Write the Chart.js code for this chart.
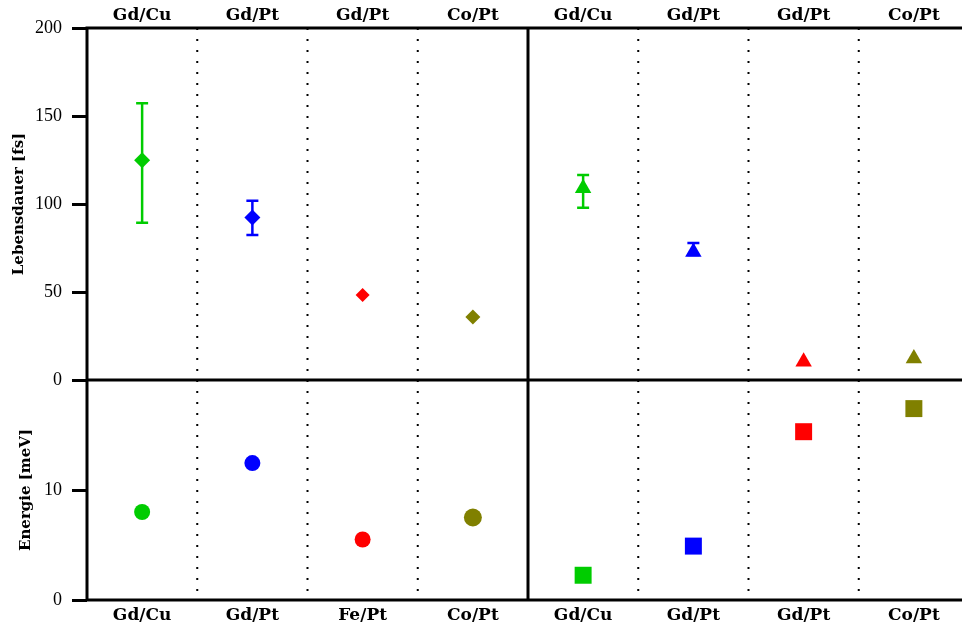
<!DOCTYPE html>
<html>
<head>
<meta charset="utf-8">
<script src="https://cdn.jsdelivr.net/npm/chart.js@4.4.1/dist/chart.umd.min.js"></script>
<style>
  html, body { margin: 0; padding: 0; background: #fff; overflow: hidden; }
  #wrap { width: 962px; height: 627px; overflow: hidden; position: relative; }
  #c { position: absolute; left: 0; top: 0; }
</style>
</head>
<body>
<div id="wrap"><canvas id="c" width="970" height="627"></canvas></div>
<script>
// ---- data ----
const categoriesTop = ['Gd/Cu', 'Gd/Pt', 'Gd/Pt', 'Co/Pt', 'Gd/Cu', 'Gd/Pt', 'Gd/Pt', 'Co/Pt'];
const categoriesBottom = ['Gd/Cu', 'Gd/Pt', 'Fe/Pt', 'Co/Pt', 'Gd/Cu', 'Gd/Pt', 'Gd/Pt', 'Co/Pt'];
const positionsLeft = [1, 2, 3, 4];
const positionsRight = [5, 6, 7, 8];
const lifetimeLeft = [124.8, 92.3, 48.3, 35.8];
const lifetimeLeftErrLow = [89.4, 82.4, null, null];
const lifetimeLeftErrHigh = [157.2, 101.9, null, null];
const lifetimeRight = [109.0, 72.7, 10.3, 12.2];
const lifetimeRightErrLow = [97.9, 71.0, null, null];
const lifetimeRightErrHigh = [116.5, 77.8, null, null];
const energyLeft = [8.0, 12.45, 5.5, 7.5];
const energyRight = [2.25, 4.9, 15.3, 17.4];
const lifetimeTicks = [0, 50, 100, 150, 200];
const energyTicks = [0, 10];
const colors = ['#00cc00', '#0000ff', '#ff0000', '#808000'];

const toPts = (xs, ys) => xs.map((x, i) => ({ x: x, y: ys[i] }));

const errorBars = {
  0: { low: lifetimeLeftErrLow, high: lifetimeLeftErrHigh },
  1: { low: lifetimeRightErrLow, high: lifetimeRightErrHigh }
};

const framePlugin = {
  id: 'frame',
  beforeDatasetsDraw(chart) {
    const { ctx, chartArea: a, scales } = chart;
    const x = scales.x;
    ctx.save();
    ctx.setLineDash([2, 9]);
    ctx.lineWidth = 2;
    ctx.strokeStyle = '#000';
    for (let i = 1; i < categoriesTop.length; i++) {
      if (i === 4) continue;
      const px = x.getPixelForValue(i + 0.5);
      ctx.beginPath();
      ctx.moveTo(px, a.top);
      ctx.lineTo(px, a.bottom);
      ctx.stroke();
    }
    ctx.setLineDash([]);
    // error bars
    Object.keys(errorBars).forEach(k => {
      const ds = chart.data.datasets[k];
      const ys = scales[ds.yAxisID];
      const eb = errorBars[k];
      ds.data.forEach((p, i) => {
        if (eb.low[i] == null) return;
        const px = x.getPixelForValue(p.x);
        const y1 = ys.getPixelForValue(eb.low[i]);
        const y2 = ys.getPixelForValue(eb.high[i]);
        ctx.strokeStyle = colors[i];
        ctx.lineWidth = 2.5;
        ctx.beginPath();
        ctx.moveTo(px, y1); ctx.lineTo(px, y2);
        ctx.moveTo(px - 6, y1); ctx.lineTo(px + 6, y1);
        ctx.moveTo(px - 6, y2); ctx.lineTo(px + 6, y2);
        ctx.stroke();
      });
    });
    ctx.restore();
  },
  afterDatasetsDraw(chart) {
    const { ctx, chartArea: a, scales } = chart;
    ctx.save();
    ctx.strokeStyle = '#000';
    ctx.lineWidth = 3;
    ctx.strokeRect(a.left, a.top, a.right - a.left, a.bottom - a.top);
    const yb = scales.yL.bottom;
    ctx.beginPath();
    ctx.moveTo(a.left, yb); ctx.lineTo(a.right, yb);
    const xm = scales.x.getPixelForValue(4.5);
    ctx.moveTo(xm, a.top); ctx.lineTo(xm, a.bottom);
    ctx.stroke();
    ctx.restore();
  }
};

const xLabelFont = { family: 'DejaVu Serif', size: 17, weight: 'bold' };
const yTickFont = { family: 'Liberation Serif', size: 18 };
const yTitleFont = { family: 'DejaVu Serif', size: 15, weight: 'bold' };

new Chart(document.getElementById('c'), {
  type: 'scatter',
  data: {
    datasets: [
      { data: toPts(positionsLeft, lifetimeLeft), xAxisID: 'x', yAxisID: 'yL',
        pointStyle: 'rectRot', pointRadius: [8, 8, 7, 7.5], backgroundColor: colors, borderColor: colors, borderWidth: 0 },
      { data: toPts(positionsRight, lifetimeRight), xAxisID: 'x', yAxisID: 'yL',
        pointStyle: 'triangle', pointRadius: 9.5, backgroundColor: colors, borderColor: colors, borderWidth: 0 },
      { data: toPts(positionsLeft, energyLeft), xAxisID: 'x', yAxisID: 'yE',
        pointStyle: 'circle', pointRadius: [8, 8, 8, 9], backgroundColor: colors, borderColor: colors, borderWidth: 0 },
      { data: toPts(positionsRight, energyRight), xAxisID: 'x', yAxisID: 'yE',
        pointStyle: 'rect', pointRadius: 12, backgroundColor: colors, borderColor: colors, borderWidth: 0 }
    ]
  },
  options: {
    responsive: false,
    animation: false,
    events: [],
    layout: { autoPadding: false, padding: { left: 0, right: 1, top: 0, bottom: 0 } },
    plugins: { legend: { display: false }, tooltip: { enabled: false } },
    scales: {
      x: {
        type: 'linear', position: 'bottom', min: 0.5, max: 8.5,
        afterBuildTicks: s => { s.ticks = categoriesBottom.map((_, i) => ({ value: i + 1 })); },
        afterFit: s => { s.height = 27; },
        grid: { display: false, drawTicks: false, tickLength: 0 }, border: { display: false },
        ticks: { autoSkip: false, maxRotation: 0, padding: 5, color: '#000', font: xLabelFont,
                 callback: (v) => categoriesBottom[Math.round(v) - 1] }
      },
      xT: {
        type: 'linear', position: 'top', min: 0.5, max: 8.5,
        afterBuildTicks: s => { s.ticks = categoriesTop.map((_, i) => ({ value: i + 1 })); },
        afterFit: s => { s.height = 28; },
        grid: { display: false, drawTicks: false, tickLength: 0 }, border: { display: false },
        ticks: { autoSkip: false, maxRotation: 0, padding: 2, color: '#000', font: xLabelFont,
                 callback: (v) => categoriesTop[Math.round(v) - 1] }
      },
      yE: {
        type: 'linear', position: 'left', stack: 'v', stackWeight: 220, min: 0, max: 20,
        afterBuildTicks: s => { s.ticks = energyTicks.map(v => ({ value: v })); },
        afterFit: s => { s.width = 87; },
        border: { display: false },
        grid: { drawOnChartArea: false, drawTicks: true, tickLength: 15, lineWidth: 3, color: '#000' },
        ticks: { padding: 10, color: '#000', font: yTickFont },
        title: { display: true, text: 'Energie [meV]', color: '#000', font: yTitleFont, padding: { top: 17, bottom: 0 } }
      },
      yL: {
        type: 'linear', position: 'left', stack: 'v', stackWeight: 352, min: 0, max: 200,
        afterBuildTicks: s => { s.ticks = lifetimeTicks.map(v => ({ value: v })); },
        afterFit: s => { s.width = 87; },
        border: { display: false },
        grid: { drawOnChartArea: false, drawTicks: true, tickLength: 15, lineWidth: 3, color: '#000' },
        ticks: { padding: 10, color: '#000', font: yTickFont },
        title: { display: true, text: 'Lebensdauer [fs]', color: '#000', font: yTitleFont, padding: { top: 10, bottom: 0 } }
      }
    }
  },
  plugins: [framePlugin]
});
</script>
</body>
</html>
